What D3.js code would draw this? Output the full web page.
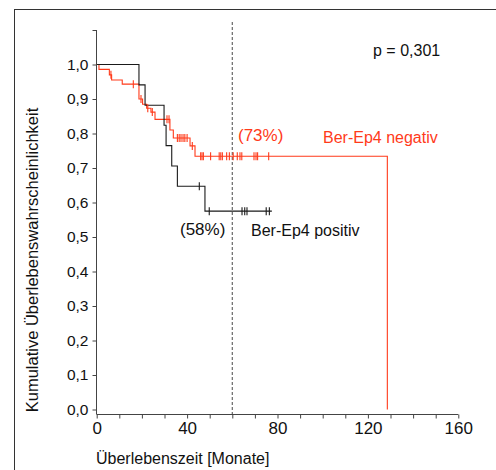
<!DOCTYPE html>
<html><head><meta charset="utf-8">
<script src="https://cdn.jsdelivr.net/npm/d3@7"></script>
<style>body{margin:0;background:#fff}svg{display:block}text{font-family:"Liberation Sans",Arial,sans-serif}</style>
</head><body><svg id="c" width="496" height="470"></svg>
<script>
// Ber-Ep4 positiv (black)
const posTimes = [18.7, 21.4, 29.8, 30.7, 33.2, 35.7, 47.9];
const posSurv  = [0.941, 0.882, 0.824, 0.765, 0.706, 0.647, 0.575];
const posCensor = [45.4, 49.8, 64.3, 65.5, 66.5, 75.0, 76.4];
const posEnd = 77.5;
// Ber-Ep4 negativ (red)
const negTimes = [1.0, 5.6, 6.6, 11.3, 18.7, 20.3, 22.1, 24.0, 25.8, 32.4, 33.9, 41.3, 43.5, 128.6];
const negSurv  = [0.986, 0.970, 0.955, 0.943, 0.90, 0.885, 0.873, 0.862, 0.841, 0.81, 0.787, 0.764, 0.734, 0];
const negCensor = [6.3, 16.2, 19.6, 22.6, 24.6, 31.1, 32.0, 35.7, 36.5, 37.3, 38.2, 39.0, 40.0, 42.3,
  46.0, 46.6, 47.2, 50.4, 54.2, 54.9, 55.6, 57.5, 58.7, 60.4, 62.2, 63.4, 64.2, 69.6, 70.5, 71.2, 76.1];
const negEnd = 128.6;
const xTicks = [0,10,20,30,40,50,60,70,80,90,100,110,120,130,140,150,160];
const xLabels = [0,40,80,120,160];
const yTicks = [0,0.1,0.2,0.3,0.4,0.5,0.6,0.7,0.8,0.9,1.0,1.1];
const yLabels = [0,0.1,0.2,0.3,0.4,0.5,0.6,0.7,0.8,0.9,1.0];
const refTime = 60;
const pText = "p = 0,301";

const svg = d3.select("#c");
const x = d3.scaleLinear().domain([0,160]).range([96.7,458.3]);
const y = d3.scaleLinear().domain([0,1.1]).range([409.5,30]);
const RED = "#ff3a1a", BLK = "#1a1a1a", AX = "#444";
const fmt = v => d3.format(".1f")(v).replace(".", ",");

// frame
svg.append("rect").attr("x",14.5).attr("y",9.5).attr("width",700).attr("height",700)
  .attr("fill","none").attr("stroke","#333").attr("stroke-width",1);

// reference dashed line
svg.append("line").attr("x1",x(refTime)).attr("x2",x(refTime)).attr("y1",22).attr("y2",414)
  .attr("stroke","#666").attr("stroke-dasharray","3,2").attr("stroke-width",1.2);

// axes
const yAx = svg.append("g").attr("transform","translate(96.5,0)")
  .call(d3.axisLeft(y).tickValues(yTicks).tickSize(4).tickSizeOuter(0)
    .tickFormat(d => yLabels.some(l=>Math.abs(l-d)<1e-9) ? fmt(d) : ""));
yAx.select(".domain").remove();
yAx.selectAll("line").attr("stroke",AX);
yAx.selectAll("text").attr("font-size",15.5).attr("fill","#111").attr("x",-8);
svg.append("line").attr("x1",96.5).attr("x2",96.5).attr("y1",30).attr("y2",414.5).attr("stroke",AX);

const xAx = svg.append("g").attr("transform","translate(0,414.5)")
  .call(d3.axisBottom(x).tickValues(xTicks).tickSize(4).tickSizeOuter(0)
    .tickFormat(d => xLabels.includes(d) ? d : ""));
xAx.select(".domain").attr("stroke",AX).attr("d",`M${x(0)},0H${x(160)}`);
xAx.selectAll("line").attr("stroke",AX);
xAx.selectAll("text").attr("font-size",17).attr("fill","#111").attr("y",7);

// KM curves
function stepPath(times, surv, end){
  const pts = [[0,1]];
  let s = 1;
  times.forEach((t,i)=>{ pts.push([t,s]); s = surv[i]; pts.push([t,s]); });
  if (end > times[times.length-1]) pts.push([end,s]);
  return d3.line().x(d=>x(d[0])).y(d=>y(d[1]))(pts);
}
function survAt(times, surv, t){
  let s = 1; times.forEach((tt,i)=>{ if (tt<=t) s = surv[i]; }); return s;
}
svg.append("path").attr("d",stepPath(negTimes,negSurv,negEnd)).attr("fill","none")
  .attr("stroke",RED).attr("stroke-width",1.1);
svg.append("path").attr("d",stepPath(posTimes,posSurv,posEnd)).attr("fill","none")
  .attr("stroke",BLK).attr("stroke-width",1.1);
svg.append("g").selectAll("line").data(negCensor).join("line")
  .attr("x1",d=>x(d)).attr("x2",d=>x(d))
  .attr("y1",d=>y(survAt(negTimes,negSurv,d))-4).attr("y2",d=>y(survAt(negTimes,negSurv,d))+4)
  .attr("stroke",RED).attr("stroke-width",1.1);
svg.append("g").selectAll("line").data(posCensor).join("line")
  .attr("x1",d=>x(d)).attr("x2",d=>x(d))
  .attr("y1",d=>y(survAt(posTimes,posSurv,d))-4).attr("y2",d=>y(survAt(posTimes,posSurv,d))+4)
  .attr("stroke",BLK).attr("stroke-width",1.1);

// texts
const T = (t,xx,yy,c,fs) => svg.append("text").text(t).attr("x",xx).attr("y",yy)
  .attr("fill",c).attr("font-size",fs||15.5);
T(pText,373,56,"#111",16);
T("(73%)",238,141,RED,17);
T("Ber-Ep4 negativ",323,143,RED,16);
T("(58%)",180,235,"#111",17);
T("Ber-Ep4 positiv",251,236,"#111",16);
T("Überlebenszeit [Monate]",96,464,"#111",16);
svg.append("text").text("Kumulative Überlebenswahrscheinlichkeit")
  .attr("transform","translate(38,260) rotate(-90)").attr("text-anchor","middle")
  .attr("font-size",16.5).attr("fill","#111");
</script></body></html>
